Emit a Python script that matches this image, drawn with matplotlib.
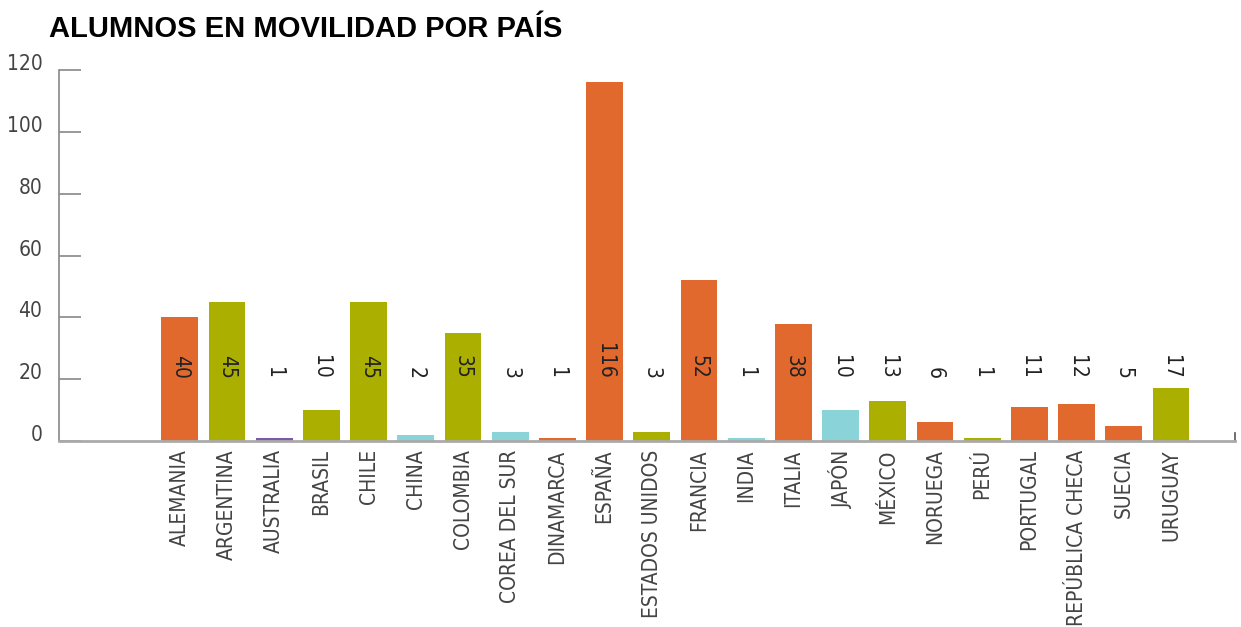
import matplotlib.pyplot as plt

paises = ['ALEMANIA', 'ARGENTINA', 'AUSTRALIA', 'BRASIL', 'CHILE', 'CHINA',
          'COLOMBIA', 'COREA DEL SUR', 'DINAMARCA', 'ESPAÑA', 'ESTADOS UNIDOS',
          'FRANCIA', 'INDIA', 'ITALIA', 'JAPÓN', 'MÉXICO', 'NORUEGA', 'PERÚ',
          'PORTUGAL', 'REPÚBLICA CHECA', 'SUECIA', 'URUGUAY']
alumnos = [40, 45, 1, 10, 45, 2, 35, 3, 1, 116, 3, 52, 1, 38, 10, 13, 6, 1,
           11, 12, 5, 17]
grupo = ['eu', 'am', 'oc', 'am', 'am', 'as', 'am', 'as', 'eu', 'eu', 'am',
         'eu', 'as', 'eu', 'as', 'am', 'eu', 'am', 'eu', 'eu', 'eu', 'am']

colores = {'eu': '#E2692E', 'am': '#ABAF00', 'oc': '#7D58A8', 'as': '#8AD3D9'}

fig = plt.figure(figsize=(12.41, 6.27), dpi=100)
ax = fig.add_axes([0.0475, 0.2967, 0.9475, 0.5915])

x = list(range(len(paises)))
ax.bar(x, alumnos, width=0.78, color=[colores[g] for g in grupo])

for i, v in enumerate(alumnos):
    ax.text(i, 20, str(v), rotation=-90, ha='center', va='bottom',
            fontsize=15, color='#222222', family='DejaVu Sans', stretch='condensed')

ax.set_xlim(-2.56, 22.35)
ax.set_ylim(0, 120)
ax.set_yticks([0, 20, 40, 60, 80, 100, 120])
ax.set_xticks(x)
ax.set_xticklabels(paises, rotation=90, fontsize=15, color='#444444',
                   family='DejaVu Sans', stretch='condensed')
for lab in ax.get_yticklabels():
    lab.set_fontsize(15)
    lab.set_color('#444444')
    lab.set_verticalalignment('baseline')
    lab.set_family('DejaVu Sans')
    lab.set_stretch('condensed')

ax.tick_params(axis='y', direction='in', length=16, width=1.2, color='#888888', pad=12)
ax.tick_params(axis='x', length=0, pad=6)

for s in ['top', 'right']:
    ax.spines[s].set_visible(False)
ax.spines['left'].set_color('#888888')
ax.spines['left'].set_linewidth(1.2)
ax.spines['bottom'].set_color('#AAAAAA')
ax.spines['bottom'].set_linewidth(2)
ax.plot([1, 1], [0, 0.022], transform=ax.transAxes, color='#555555', lw=1.2, clip_on=False)

fig.text(0.0395, 0.953, 'ALUMNOS EN MOVILIDAD POR PAÍS', fontsize=21, fontweight='bold',
         family=['Liberation Sans', 'DejaVu Sans'], va='center')

fig.savefig('out.png', dpi=100)
